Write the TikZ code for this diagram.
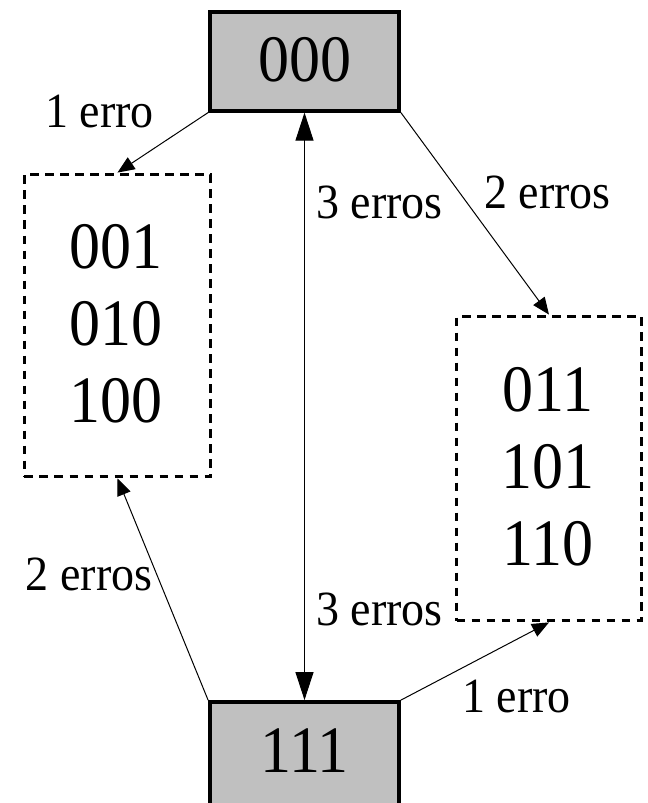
\documentclass[tikz,border=0pt]{standalone}
\usepackage{graphicx}
\usepackage{fontspec}
\setmainfont{Liberation Serif}
\usetikzlibrary{arrows.meta}
\definecolor{boxgray}{RGB}{192,192,192}
% glyphs are set slightly taller than wide
\newcommand{\tallify}[1]{\scalebox{1}[1.07]{#1}}

\begin{document}
\begin{tikzpicture}[x=1bp,y=-1bp,
  codebox/.style={rectangle, draw=black, line width=3.8bp, fill=boxgray,
    minimum width=189bp, minimum height=99bp, inner sep=0pt},
  setbox/.style={rectangle, draw=black, line width=3.8bp,
    dash pattern=on 8.5bp off 6.5bp, inner sep=0pt},
  big/.style={font=\fontsize{62bp}{72bp}\selectfont, inner sep=0pt, anchor=base},
  lbl/.style={font=\fontsize{46bp}{50bp}\selectfont, inner sep=0pt, anchor=base},
  link/.style={line width=1bp, -{Triangle[length=17bp,width=14bp]}},
  dlink/.style={line width=1bp,
    {Triangle[length=28bp,width=18bp]}-{Triangle[length=28bp,width=18bp]}},
]
\useasboundingbox (0,0) rectangle (648,803);
\clip (0,0) rectangle (648,803);

% code words
\node[codebox] (c000) at (304.5,61.2) {};
\node[codebox, minimum height=115bp] (c111) at (304.5,759.5) {};
\node[big] (t000) at (304.5,81.5) {\tallify{000}};
\node[big] (t111) at (304.5,772) {\tallify{111}};

% received words grouped by distance
\node[setbox, minimum width=186bp, minimum height=302bp] (lft) at (117.5,325.5) {};
\node[setbox, minimum width=185bp, minimum height=304bp] (rgt) at (549,468.5) {};
\node[big] (tlft) at (116,268) {\tallify{\begin{tabular}[t]{@{}c@{}}001\\010\\100\end{tabular}}};
\node[big] (trgt) at (548,411) {\tallify{\begin{tabular}[t]{@{}c@{}}011\\101\\110\end{tabular}}};

% transitions
\draw[link] (c000.south west) -- (lft.north);
\draw[link] (c000.south east) -- (rgt.north);
\draw[dlink] (c000.south) -- (c111.north);
\draw[link] (c111.north west) -- (lft.south);
\draw[link] (c111.north east) -- (rgt.south);

% error counts
\node[lbl] (e1a) at (99.5,127) {\tallify{1 erro}};
\node[lbl] (e3a) at (379.5,218) {\tallify{3 erros}};
\node[lbl] (e2a) at (547.5,208) {\tallify{2 erros}};
\node[lbl] (e2b) at (89,590) {\tallify{2 erros}};
\node[lbl] (e3b) at (379.5,625) {\tallify{3 erros}};
\node[lbl] (e1b) at (516.5,712) {\tallify{1 erro}};
\end{tikzpicture}
\end{document}
